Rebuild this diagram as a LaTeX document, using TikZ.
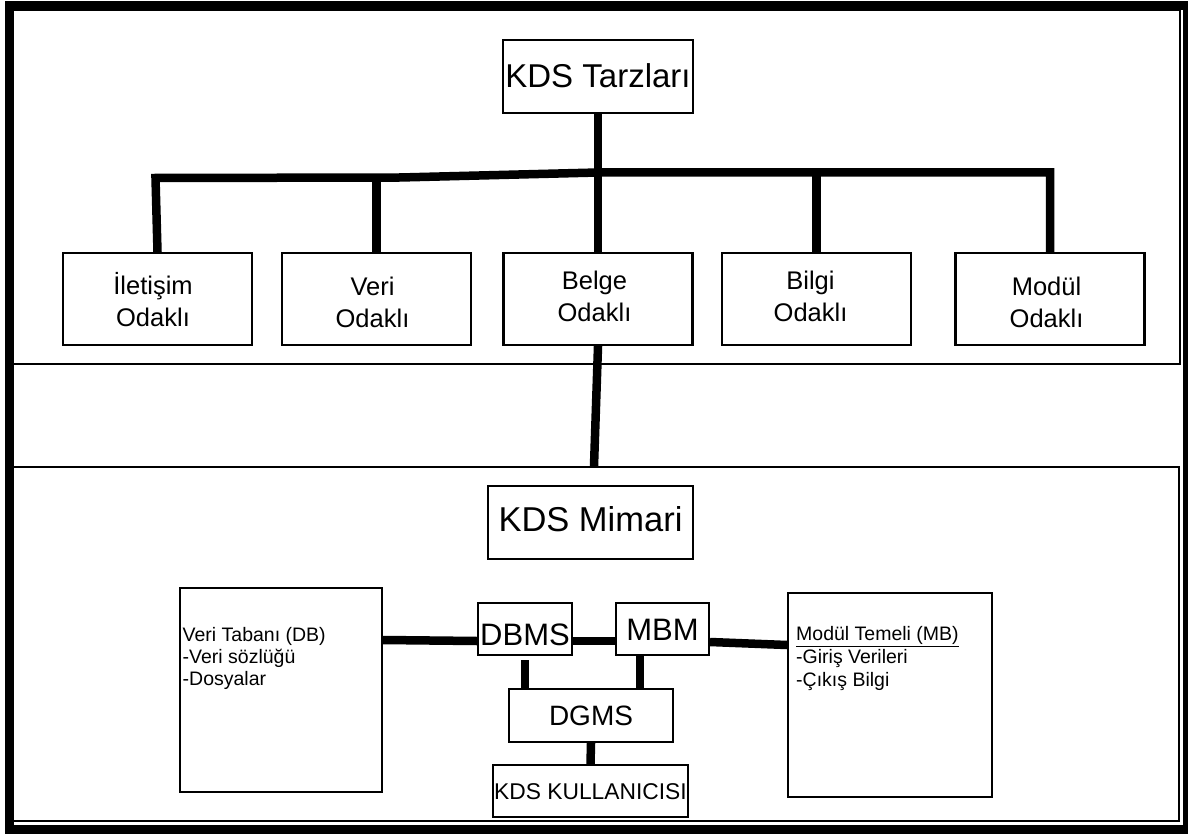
\documentclass[tikz,border=0pt]{standalone}
\usepackage{fontspec}
\setmainfont{Liberation Sans}
\pgfdeclarelayer{back}
\pgfsetlayers{back,main}
\begin{document}
\begin{tikzpicture}[x=1pt,y=-1pt,
  panel/.style={draw=black, line width=2pt, inner sep=0pt},
  box/.style={draw=black, line width=2.2pt, fill=white, inner sep=0pt},
  wire/.style={draw=black, line width=8.5pt, line join=miter},
  kind/.style={align=center, inner sep=0pt, font=\fontsize{25.5}{32}\selectfont},
  note/.style={align=left, inner sep=0pt, anchor=north west},
]
\useasboundingbox (0,0) rectangle (1188,834);

% two panels
\begin{pgfonlayer}{back}
  \node[panel, minimum width=1167pt, minimum height=354pt] (upper) at (596.5,187) {};
  \node[panel, minimum width=1166pt, minimum height=354pt] (lower) at (596,644) {};
\end{pgfonlayer}

% outer frame
\draw[line width=9pt] (9,5.5) rectangle (1187.5,829);

% upper part: styles of decision support systems
\node[box, minimum width=190pt, minimum height=73pt, text height=21.6pt, text depth=0pt,
      font=\fontsize{33}{40}\selectfont] (tarz) at (598,76.5) {KDS Tarzları};

\node[box, minimum width=189pt, minimum height=92pt] (ilet)  at (157.5,299) {};
\node[box, minimum width=189pt, minimum height=92pt] (veri)  at (376.5,299) {};
\node[box, minimum width=189pt, minimum height=92pt] (belge) at (598,299) {};
\node[box, minimum width=189pt, minimum height=92pt] (bilgi) at (816.5,299) {};
\node[box, minimum width=189pt, minimum height=92pt] (modul) at (1050,299) {};

\node[kind] (ilet-t)  at (153,299.5) {İletişim\\Odaklı};
\node[kind] (veri-t)  at (372.5,302) {Veri\\Odaklı};
\node[kind] (belge-t) at (594.5,296) {Belge\\Odaklı};
\node[kind] (bilgi-t) at (810.5,296) {Bilgi\\Odaklı};
\node[kind] (modul-t) at (1046.5,302) {Modül\\Odaklı};

% lower part: architecture
\node[box, minimum width=205pt, minimum height=73pt, text height=18.4pt, text depth=0pt,
      font=\fontsize{34.5}{40}\selectfont] (mimari) at (590.5,522.5) {KDS Mimari};

\node[box, minimum width=202pt, minimum height=204pt] (db) at (281,690) {};
\node[box, minimum width=204pt, minimum height=204pt] (mb) at (890,695) {};

\node[note, font=\fontsize{19.5}{22}\selectfont] (db-t) at (182.5,627.5)
  {Veri Tabanı (DB)\\-Veri sözlüğü\\-Dosyalar};
\node[note, font=\fontsize{19.5}{23}\selectfont] (mb-t) at (796,626)
  {\underline{Modül Temeli (MB)}\\-Giriş Verileri\\-Çıkış Bilgi};

\node[box, minimum width=94pt, minimum height=52pt, text height=32pt, text depth=0pt,
      font=\fontsize{31}{36}\selectfont] (dbms) at (525,629) {DBMS};
\node[box, minimum width=93pt, minimum height=52pt, text height=22pt, text depth=0pt,
      font=\fontsize{31}{36}\selectfont] (mbm) at (662.5,629) {MBM};
\node[box, minimum width=164pt, minimum height=53pt, text height=20pt, text depth=0pt,
      font=\fontsize{28}{34}\selectfont] (dgms) at (591,715.5) {DGMS};
\node[box, minimum width=195pt, minimum height=52pt, text height=16pt, text depth=0pt,
      font=\fontsize{22.8}{27}\selectfont] (kull) at (590.5,791) {KDS KULLANICISI};

% connectors
\begin{pgfonlayer}{back}
  \coordinate (hub) at (598,172.5);
  \draw[wire] (tarz.south) -- (belge.north);
  \draw[wire] (ilet.north) -- (155.5,178) -- (400,177.5) -- (hub)
              -- (hub -| modul.north) -- (modul.north);
  \draw[wire] (veri.north |- 0,177) -- (veri.north);
  \draw[wire] (bilgi.north |- hub) -- (bilgi.north);
  \draw[wire] (belge.south) -- ([xshift=-2pt]lower.north);

  \draw[wire] (db.east |- 0,640) -- (dbms.west |- 0,641);
  \draw[wire] (dbms.east |- 0,641) -- (mbm.west |- 0,641);
  \draw[wire] (mbm.east |- 0,642) -- (mb.west |- 0,645);
  \draw[wire] ([yshift=-4pt]dbms.south) -- (dbms.south |- dgms.north);
  \draw[wire] (mbm.south -| 640,0) -- (dgms.north -| 640,0);
  \draw[wire] (dgms.south) -- (kull.north);
\end{pgfonlayer}
\end{tikzpicture}
\end{document}
